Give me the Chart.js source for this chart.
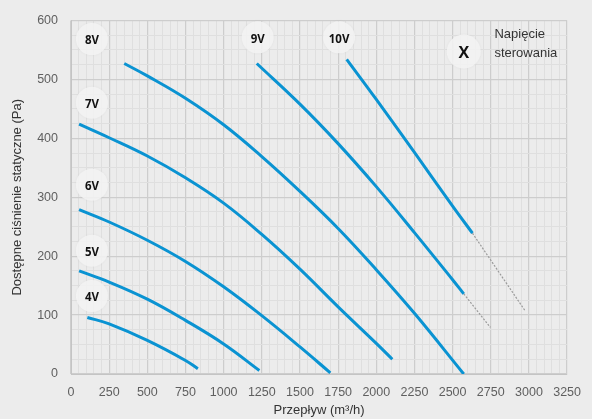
<!DOCTYPE html>
<html>
<head>
<meta charset="utf-8">
<script src="https://cdn.jsdelivr.net/npm/chart.js@4/dist/chart.umd.min.js"></script>
<style>
html,body{margin:0;padding:0;background:#ececec;}
#wrap{width:592px;height:419px;position:relative;}
</style>
</head>
<body>
<div id="wrap"><canvas id="c" width="592" height="419"></canvas></div>
<script>
// ---- data ----
const flow4V = [107, 250, 500, 750, 831];
const pres4V = [96, 85, 57, 23, 9];
const flow5V = [53, 250, 500, 750, 1000, 1234];
const pres5V = [175, 156, 127, 91, 51, 6];
const flow6V = [53, 250, 500, 750, 1000, 1250, 1500, 1699];
const pres6V = [279, 258, 227, 191, 148, 99, 46, 2];
const flow7V = [53, 250, 500, 750, 1000, 1250, 1500, 1750, 2000, 2105];
const pres7V = [424, 401, 370, 333, 290, 237, 178, 114, 52, 25];
const flow8V = [349, 500, 750, 1000, 1250, 1500, 1750, 2000, 2250, 2573];
const pres8V = [527, 506, 468, 423, 369, 310, 247, 177, 103, 0];
const flow9V = [1217, 1500, 1750, 2000, 2250, 2500, 2573];
const pres9V = [527, 458, 391, 318, 240, 160, 136];
const flow9Vext = [2573, 2748];
const pres9Vext = [136, 79];
const flow10V = [1806, 2000, 2250, 2500, 2630];
const pres10V = [534, 466, 376, 285, 239];
const flow10Vext = [2630, 2973];
const pres10Vext = [239, 108];

const curveNames = ['4V', '5V', '6V', '7V', '8V', '9V', '10V'];
const labelFlow = [137, 137, 137, 137, 137, 1223, 1756];
const labelPres = [129, 206, 318, 457, 565, 568, 568];
const markName = 'X';
const markFlow = 2573;
const markPres = 544;
const noteLines = ['Napięcie', 'sterowania'];
const noteFlow = 2774;
const notePres = [576, 544];

const xMin = 0, xMax = 3250, xMajor = 250, xMinor = 50;
const yMin = 0, yMax = 600, yMajor = 100, yMinor = 25;
const xTitle = 'Przepływ (m³/h)';
const yTitle = 'Dostępne ciśnienie statyczne (Pa)';

function pts(xs, ys) { return xs.map((x, i) => ({x: x, y: ys[i]})); }

const BLUE = '#0a93d2';
const solid = [
  [flow4V, pres4V], [flow5V, pres5V], [flow6V, pres6V], [flow7V, pres7V],
  [flow8V, pres8V], [flow9V, pres9V], [flow10V, pres10V]
];
const datasets = solid.map((s, i) => ({
  label: curveNames[i],
  data: pts(s[0], s[1]),
  borderColor: BLUE,
  borderWidth: 3,
  pointRadius: 0,
  showLine: true,
  fill: false,
  tension: 0.4,
  borderCapStyle: 'butt'
}));
[[flow9Vext, pres9Vext], [flow10Vext, pres10Vext]].forEach(s => {
  datasets.push({
    label: 'ext',
    data: pts(s[0], s[1]),
    borderColor: '#9a9a9a',
    borderWidth: 1.2,
    borderDash: [2, 1.5],
    pointRadius: 0,
    showLine: true,
    fill: false
  });
});

const SANS = '"Liberation Sans", Arial, sans-serif';

const labelPlugin = {
  id: 'labels',
  beforeDatasetsDraw(chart) {
    const ctx = chart.ctx, xs = chart.scales.x, ys = chart.scales.y;
    ctx.save();
    const circ = (cx, cy, r) => {
      ctx.save();
      ctx.shadowColor = 'rgba(0,0,0,0.05)';
      ctx.shadowBlur = 3;
      ctx.beginPath();
      ctx.arc(cx, cy, r, 0, Math.PI * 2);
      ctx.fillStyle = 'rgba(243,243,243,0.9)';
      ctx.fill();
      ctx.restore();
    };
    for (let i = 0; i < curveNames.length; i++) {
      circ(xs.getPixelForValue(labelFlow[i]), ys.getPixelForValue(labelPres[i]) - 2, 16);
    }
    circ(xs.getPixelForValue(markFlow), ys.getPixelForValue(markPres) - 2, 17);
    ctx.restore();
  },
  afterDatasetsDraw(chart) {
    const ctx = chart.ctx, xs = chart.scales.x, ys = chart.scales.y;
    ctx.save();
    ctx.textAlign = 'center';
    ctx.textBaseline = 'middle';
    ctx.fillStyle = '#111';
    ctx.font = 'bold 11.5px "Open Sans", sans-serif';
    for (let i = 0; i < curveNames.length; i++) {
      ctx.fillText(curveNames[i], xs.getPixelForValue(labelFlow[i]), ys.getPixelForValue(labelPres[i]));
    }
    ctx.font = 'bold 16px "Open Sans", sans-serif';
    ctx.fillText(markName, xs.getPixelForValue(markFlow), ys.getPixelForValue(markPres));
    ctx.textAlign = 'left';
    ctx.fillStyle = '#333';
    ctx.font = '13px ' + SANS;
    noteLines.forEach((t, i) => ctx.fillText(t, xs.getPixelForValue(noteFlow), ys.getPixelForValue(notePres[i])));
    ctx.restore();
  }
};

new Chart(document.getElementById('c'), {
  type: 'scatter',
  data: {datasets},
  plugins: [labelPlugin],
  options: {
    responsive: false,
    animation: false,
    events: [],
    layout: {padding: {left: 0, right: 15, top: 19, bottom: 0}},
    plugins: {legend: {display: false}, tooltip: {enabled: false}},
    scales: {
      x: {
        type: 'linear', min: xMin, max: xMax,
        afterFit(s) { s.height = 45; },
        border: {display: true, color: '#c4c4c4', width: 1},
        grid: {
          drawTicks: false,
          color: c => (c.tick && c.tick.value % xMajor === 0) ? '#cdcdcd' : '#dfdfdf',
          lineWidth: c => (c.tick && c.tick.value % xMajor === 0) ? 1.2 : 1
        },
        ticks: {
          stepSize: xMinor, autoSkip: false, maxRotation: 0, padding: 11,
          color: '#5f5f5f', font: {family: SANS, size: 12.5},
          callback: v => (v % xMajor === 0 ? String(v) : '')
        },
        title: {display: true, text: xTitle, color: '#333', font: {family: SANS, size: 13}, padding: {top: 0, bottom: 1}}
      },
      y: {
        type: 'linear', min: yMin, max: yMax,
        afterFit(s) { s.width = 71; },
        border: {display: true, color: '#c4c4c4', width: 1},
        grid: {
          drawTicks: false,
          color: c => (c.tick && c.tick.value % yMajor === 0) ? '#cdcdcd' : '#dfdfdf',
          lineWidth: c => (c.tick && c.tick.value % yMajor === 0) ? 1.2 : 1
        },
        ticks: {
          stepSize: yMinor, autoSkip: false, padding: 13,
          color: '#5f5f5f', font: {family: SANS, size: 12.5},
          callback: v => (v % yMajor === 0 ? String(v) : '')
        },
        title: {display: true, text: yTitle, color: '#333', font: {family: SANS, size: 13}, padding: {top: 10, bottom: 0}}
      }
    }
  }
});
</script>
</body>
</html>
